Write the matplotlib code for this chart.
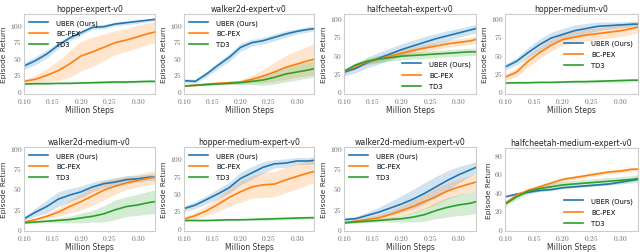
import numpy as np
import matplotlib
matplotlib.use("Agg")
import matplotlib.pyplot as plt
from matplotlib.ticker import FuncFormatter, MultipleLocator

plt.rcParams['mathtext.fontset'] = 'cm'
plt.rcParams['font.family'] = 'DejaVu Sans'

steps = [0.10, 0.12, 0.14, 0.16, 0.18, 0.20, 0.22, 0.24, 0.26, 0.28, 0.30, 0.32, 0.33]
methods = ['UBER (Ours)', 'BC-PEX', 'TD3']
colors = ['#1f77b4', '#ff7f0e', '#2ca02c']

titles = ['hopper-expert-v0', 'walker2d-expert-v0', 'halfcheetah-expert-v0', 'hopper-medium-v0',
          'walker2d-medium-v0', 'hopper-medium-expert-v0', 'walker2d-medium-expert-v0',
          'halfcheetah-medium-expert-v0']

# mean curves per task: UBER, BC-PEX, TD3
uber_mean = [
    [37, 45, 55, 68, 79, 87, 95, 96, 100, 102, 104, 106, 107],
    [15, 14, 25, 38, 50, 65, 72, 75, 80, 85, 89, 92, 93],
    [25, 30, 38, 44, 50, 56, 61, 66, 71, 75, 79, 83, 85],
    [32, 40, 52, 63, 72, 77, 82, 85, 88, 89, 90, 91, 91],
    [12, 20, 27, 36, 41, 45, 51, 55, 57, 60, 61, 63, 63],
    [27, 32, 40, 48, 57, 70, 78, 86, 91, 92, 95, 95, 96],
    [11, 12, 16, 20, 25, 30, 36, 43, 51, 59, 66, 72, 75],
    [34, 37, 39, 41, 42, 44, 45, 46, 47, 48, 50, 52, 53],
]
uber_std = [
    [5, 6, 6, 5, 4, 4, 3, 3, 3, 3, 3, 2, 2],
    [3, 3, 4, 5, 6, 6, 5, 5, 5, 5, 4, 4, 3],
    [5, 6, 7, 8, 8, 8, 8, 8, 7, 7, 6, 6, 6],
    [4, 5, 7, 8, 8, 8, 8, 7, 6, 5, 4, 4, 4],
    [2, 5, 8, 9, 8, 7, 6, 5, 5, 5, 4, 4, 4],
    [4, 5, 6, 7, 8, 9, 9, 8, 6, 6, 5, 5, 5],
    [2, 3, 4, 6, 8, 10, 12, 13, 13, 12, 10, 8, 7],
    [1, 1, 1, 1, 1, 1, 1, 1, 1, 1, 1, 1, 1],
]
bc_mean = [
    [14, 17, 23, 30, 40, 52, 58, 65, 72, 76, 81, 86, 88],
    [7, 8, 10, 11, 12, 13, 17, 22, 28, 35, 40, 45, 47],
    [26, 33, 39, 43, 47, 51, 55, 58, 61, 64, 66, 68, 70],
    [18, 25, 40, 52, 62, 70, 73, 76, 78, 80, 82, 85, 87],
    [8, 11, 15, 20, 27, 33, 40, 47, 52, 56, 59, 62, 63],
    [12, 17, 24, 33, 43, 51, 58, 61, 62, 68, 73, 78, 80],
    [7, 9, 11, 13, 17, 22, 27, 33, 39, 46, 51, 55, 57],
    [27, 36, 41, 45, 49, 53, 55, 57, 59, 61, 62, 64, 64],
]
bc_std = [
    [3, 6, 10, 15, 20, 22, 22, 20, 18, 17, 17, 16, 16],
    [1, 1, 1, 2, 2, 3, 6, 10, 14, 18, 20, 22, 24],
    [3, 3, 3, 4, 4, 5, 5, 5, 5, 5, 5, 5, 5],
    [4, 6, 8, 8, 8, 8, 8, 8, 8, 8, 8, 8, 8],
    [1, 2, 3, 5, 8, 10, 12, 12, 10, 8, 8, 8, 8],
    [3, 5, 7, 10, 13, 15, 16, 18, 18, 18, 18, 17, 16],
    [1, 2, 3, 4, 5, 6, 8, 9, 10, 10, 10, 10, 10],
    [1, 2, 2, 2, 2, 2, 2, 2, 2, 2, 2, 2, 2],
]
td3_mean = [
    [10, 10.5, 10.5, 11, 11, 11.5, 12, 12.5, 13, 13, 13.5, 14, 14],
    [7, 8, 9, 10, 11, 12, 14, 16, 20, 25, 28, 31, 33],
    [26, 35, 40, 43, 45, 47, 48, 49, 50, 51, 52, 53, 53],
    [10, 10.5, 10.5, 11, 11, 11.5, 12, 12, 12.5, 13, 13.5, 14, 14],
    [7, 8, 9, 10, 11, 13, 15, 18, 23, 27, 29, 32, 33],
    [10, 10, 10, 10.5, 11, 11, 11.5, 12, 12.5, 13, 13.5, 14, 14],
    [7, 8, 9, 10, 11, 12, 14, 17, 22, 26, 29, 31, 33],
    [26, 34, 40, 43, 45, 47, 48, 49, 50, 51, 52, 53, 54],
]
td3_std = [
    [1, 1, 1, 1, 1, 1, 1.5, 2, 2, 2, 2, 2, 2],
    [1, 1, 1, 1, 2, 3, 5, 8, 10, 12, 12, 12, 12],
    [2, 3, 4, 5, 5, 5, 5, 5, 5, 5, 5, 5, 5],
    [1, 1, 1, 1, 1, 1, 1.5, 2, 2, 2, 2, 2, 2],
    [1, 1, 2, 3, 4, 6, 7, 10, 12, 12, 13, 14, 14],
    [1, 1, 1, 1, 1, 1, 1.5, 2, 2, 2, 2, 2, 2],
    [1, 1, 2, 2, 3, 4, 6, 8, 10, 12, 13, 14, 14],
    [2, 3, 3, 3, 4, 4, 4, 4, 4, 4, 4, 4, 4],
]

ylims = [(-5, 115), (-5, 115), (-5, 105), (-5, 105), (-3, 100), (-5, 115), (-3, 100), (-3, 87)]
ystep = [25, 25, 25, 25, 25, 25, 25, 20]
legend_loc = ['upper left', 'upper left', 'lower right', 'center right',
              'upper left', 'upper left', 'upper left', 'lower right']

# axes boxes in pixels: left, top, right, bottom
boxes = [(24, 15, 155, 95), (184, 15, 314, 95), (344, 15, 476, 95), (505, 15, 638, 95),
         (24, 148, 155, 232), (184, 148, 314, 232), (344, 148, 476, 232), (505, 149, 638, 232)]

W, H = 640, 253
fig = plt.figure(figsize=(W / 100, H / 100), dpi=100)
x = np.array(steps)
fmt_x = FuncFormatter(lambda v, p: r'$%.2f$' % v)
fmt_y = FuncFormatter(lambda v, p: r'$%d$' % v)

for i, title in enumerate(titles):
    l, t, r, b = boxes[i]
    ax = fig.add_axes([l / W, 1 - b / H, (r - l) / W, (b - t) / H])
    series = [(uber_mean[i], uber_std[i]), (bc_mean[i], bc_std[i]), (td3_mean[i], td3_std[i])]
    for (m, s), name, c in zip(series, methods, colors):
        m = np.array(m, dtype=float)
        s = np.array(s, dtype=float)
        ax.fill_between(x, m - s, m + s, color=c, alpha=0.2, lw=0)
        ax.plot(x, m, color=c, lw=1.2, label=name)
    ax.set_xlim(0.10, 0.33)
    ax.set_ylim(*ylims[i])
    ax.xaxis.set_major_locator(MultipleLocator(0.05))
    ax.yaxis.set_major_locator(MultipleLocator(ystep[i]))
    ax.xaxis.set_major_formatter(fmt_x)
    ax.yaxis.set_major_formatter(fmt_y)
    ax.tick_params(length=0, labelsize=5.3, colors='#666666', pad=1.2)
    for sp in ax.spines.values():
        sp.set_color('#cccccc')
        sp.set_linewidth(0.8)
    ax.set_title(title, fontsize=5.6, pad=2.5, color='#222222')
    ax.set_xlabel('Million Steps', fontsize=5.5, labelpad=0.5, color='#333333')
    ax.set_ylabel('Episode Return', fontsize=5.4, labelpad=2, color='#333333')
    ax.legend(loc=legend_loc[i], fontsize=4.9, frameon=False, handlelength=2.8,
              handletextpad=1.2, labelspacing=0.7, borderaxespad=0.35)

fig.savefig('out.png', dpi=100)
